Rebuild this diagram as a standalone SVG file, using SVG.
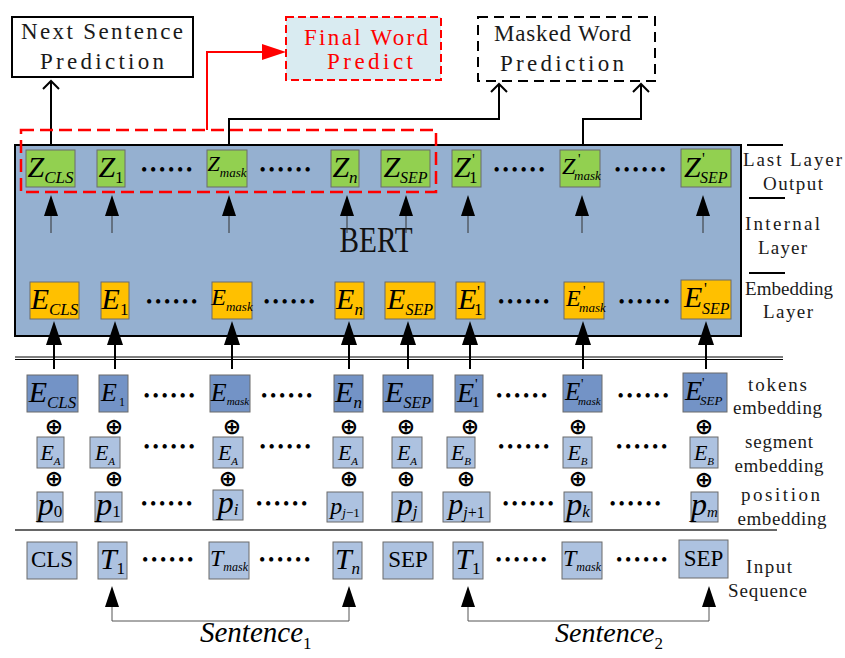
<svg xmlns="http://www.w3.org/2000/svg" width="845" height="658" viewBox="0 0 845 658">
<defs>
<style>
.lbl{font-family:"Liberation Serif","Times New Roman",serif;font-size:23px;fill:#1a1a1a;text-anchor:middle}
.rl{font-family:"Liberation Serif","Times New Roman",serif;font-size:19px;fill:#1a1a1a;text-anchor:middle}
.m{font-family:"Liberation Serif","Times New Roman",serif;font-style:italic;fill:#000}
.r{font-style:normal}
.mid{text-anchor:middle}
.dots{font-family:"Liberation Serif",serif;font-size:18px;letter-spacing:2.7px;fill:#000;text-anchor:middle}
.op{font-family:"DejaVu Sans",sans-serif;font-size:22px;font-weight:bold;fill:#000;text-anchor:middle}
.zg{fill:#92d050;stroke:#6b6b6b;stroke-width:1}
.eo{fill:#ffc000;stroke:#6b6b6b;stroke-width:1}
.td{fill:#7393c6;stroke:#6b6b6b;stroke-width:1}
.tl{fill:#adc2e0;stroke:#6b6b6b;stroke-width:1}
.ln{fill:none;stroke:#000;stroke-width:2}
.thin{fill:none;stroke:#555;stroke-width:1}
</style>
</defs>
<rect width="845" height="658" fill="#fff"/>

<!-- top boxes -->
<g id="nsp">
<rect x="12" y="17" width="181" height="60" fill="#fff" stroke="#000" stroke-width="2"/>
<text class="lbl" x="102" y="39" textLength="162" lengthAdjust="spacing">Next Sentence</text>
<text class="lbl" x="102" y="69" textLength="124" lengthAdjust="spacing">Prediction</text>
</g>
<g id="fwp">
<rect x="286" y="17" width="155" height="63" fill="#d9ebf1" stroke="#ff0000" stroke-width="2" stroke-dasharray="8 4"/>
<text class="lbl" x="366" y="45" style="fill:#ff0000" textLength="124" lengthAdjust="spacing">Final Word</text>
<text class="lbl" x="370" y="69" style="fill:#ff0000" textLength="86" lengthAdjust="spacing">Predict</text>
</g>
<g id="mwp">
<rect x="478" y="17" width="177" height="64" fill="#fff" stroke="#000" stroke-width="2" stroke-dasharray="10 6"/>
<text class="lbl" x="562.5" y="41" textLength="137" lengthAdjust="spacing">Masked Word</text>
<text class="lbl" x="562" y="71" textLength="124" lengthAdjust="spacing">Prediction</text>
</g>

<!-- BERT box -->
<g id="bert">
<rect x="15" y="145" width="726" height="191" fill="#95b0d0" stroke="#000" stroke-width="2"/>
<text x="376" y="252" font-family="Liberation Serif, serif" font-size="36" fill="#111" text-anchor="middle" textLength="73" lengthAdjust="spacingAndGlyphs">BERT</text>
</g>

<!-- right layer labels -->
<g id="layer-labels">
<line x1="747" y1="145" x2="783" y2="145" stroke="#000" stroke-width="2"/>
<text class="rl" x="792.5" y="166" textLength="99" lengthAdjust="spacing">Last Layer</text>
<text class="rl" x="793" y="190" textLength="60" lengthAdjust="spacing">Output</text>
<line x1="749" y1="198" x2="785" y2="198" stroke="#000" stroke-width="2"/>
<text class="rl" x="782.5" y="230" textLength="75" lengthAdjust="spacing">Internal</text>
<text class="rl" x="782.5" y="254" textLength="49" lengthAdjust="spacing">Layer</text>
<line x1="749" y1="273" x2="785" y2="273" stroke="#000" stroke-width="2"/>
<text class="rl" x="789" y="295" textLength="88" lengthAdjust="spacing">Embedding</text>
<text class="rl" x="788" y="318" textLength="50" lengthAdjust="spacing">Layer</text>
<text class="rl" x="777.5" y="391" textLength="59" lengthAdjust="spacing">tokens</text>
<text class="rl" x="777.5" y="414" textLength="89" lengthAdjust="spacing">embedding</text>
<text class="rl" x="779" y="448" textLength="68" lengthAdjust="spacing">segment</text>
<text class="rl" x="779" y="472" textLength="89" lengthAdjust="spacing">embedding</text>
<text class="rl" x="780.5" y="501" textLength="79" lengthAdjust="spacing">position</text>
<text class="rl" x="782" y="525" textLength="89" lengthAdjust="spacing">embedding</text>
<text class="rl" x="769" y="573" textLength="46" lengthAdjust="spacing">Input</text>
<text class="rl" x="767.5" y="597" textLength="79" lengthAdjust="spacing">Sequence</text>
</g>

<!-- Z row -->
<g id="z-cls"><rect class="zg" x="26" y="150" width="49" height="37"/><text class="m mid" x="50.5" y="177" font-size="30">Z<tspan font-size="17" dy="6">CLS</tspan></text></g>
<g id="z-1"><rect class="zg" x="97" y="150" width="28" height="37"/><text class="m mid" x="111" y="177" font-size="30">Z<tspan class="r" font-size="17" dy="6">1</tspan></text></g>
<g id="z-mask"><rect class="zg" x="207" y="150" width="40" height="37"/><text class="m mid" x="227" y="171" font-size="22">Z<tspan font-size="13" dy="6">mask</tspan></text></g>
<g id="z-n"><rect class="zg" x="331" y="150" width="28" height="37"/><text class="m mid" x="345" y="177" font-size="30">Z<tspan font-size="17" dy="6">n</tspan></text></g>
<g id="z-sep"><rect class="zg" x="381" y="150" width="49" height="37"/><text class="m mid" x="405.5" y="177" font-size="30">Z<tspan font-size="16" dy="6">SEP</tspan></text></g>
<g id="z2-1"><rect class="zg" x="452" y="150" width="29" height="37"/><text class="m" x="454" y="177" font-size="30">Z</text><text class="m r" x="472" y="165" font-size="16">'</text><text class="m r" x="469" y="183" font-size="17">1</text></g>
<g id="z2-mask"><rect class="zg" x="560" y="150" width="40" height="37"/><text class="m" x="562" y="174" font-size="24">Z</text><text class="m r" x="578" y="164" font-size="14">'</text><text class="m" x="574" y="180" font-size="13">mask</text></g>
<g id="z2-sep"><rect class="zg" x="681" y="149" width="50" height="38"/><text class="m" x="684" y="177" font-size="30">Z</text><text class="m r" x="702" y="164" font-size="16">'</text><text class="m" x="700" y="183" font-size="16">SEP</text></g>
<g id="z-dots">
<text class="dots" x="168" y="176">••••••</text><text class="dots" x="286.5" y="176">••••••</text>
<text class="dots" x="520.5" y="176">••••••</text><text class="dots" x="641.5" y="176">••••••</text>
</g>

<!-- E row (embedding layer) -->
<g id="e-cls"><rect class="eo" x="30" y="282" width="49" height="37"/><text class="m mid" x="54.5" y="309" font-size="30">E<tspan font-size="17" dy="6">CLS</tspan></text></g>
<g id="e-1"><rect class="eo" x="101" y="282" width="28" height="37"/><text class="m mid" x="115" y="309" font-size="30">E<tspan class="r" font-size="17" dy="6">1</tspan></text></g>
<g id="e-mask"><rect class="eo" x="212" y="282" width="40" height="37"/><text class="m mid" x="232" y="305" font-size="24">E<tspan font-size="13" dy="6">mask</tspan></text></g>
<g id="e-n"><rect class="eo" x="335" y="282" width="29" height="37"/><text class="m mid" x="349.5" y="309" font-size="30">E<tspan font-size="17" dy="6">n</tspan></text></g>
<g id="e-sep"><rect class="eo" x="385" y="282" width="50" height="37"/><text class="m mid" x="410" y="309" font-size="30">E<tspan font-size="16" dy="6">SEP</tspan></text></g>
<g id="e2-1"><rect class="eo" x="456" y="282" width="29" height="37"/><text class="m" x="458" y="309" font-size="30">E</text><text class="m r" x="477" y="297" font-size="16">'</text><text class="m r" x="474" y="315" font-size="17">1</text></g>
<g id="e2-mask"><rect class="eo" x="564" y="282" width="40" height="37"/><text class="m" x="566" y="306" font-size="24">E</text><text class="m r" x="583" y="296" font-size="14">'</text><text class="m" x="579" y="312" font-size="13">mask</text></g>
<g id="e2-sep"><rect class="eo" x="681" y="280" width="50" height="39"/><text class="m" x="684" y="307" font-size="30">E</text><text class="m r" x="704" y="294" font-size="16">'</text><text class="m" x="702" y="314" font-size="16">SEP</text></g>
<g id="e-dots">
<text class="dots" x="173" y="308">••••••</text><text class="dots" x="290.5" y="308">••••••</text>
<text class="dots" x="525" y="308">••••••</text><text class="dots" x="645.5" y="308">••••••</text>
</g>

<!-- token embedding row -->
<g id="t-cls"><rect class="td" x="27" y="375" width="51" height="37"/><text class="m mid" x="52.5" y="402" font-size="30">E<tspan font-size="17" dy="6">CLS</tspan></text></g>
<g id="t-1"><rect class="td" x="99" y="375" width="29" height="37"/><text class="m" x="101" y="401" font-size="26">E</text><text class="m r" x="119" y="406" font-size="12">1</text></g>
<g id="t-mask"><rect class="td" x="210" y="375" width="40" height="37"/><text class="m mid" x="230" y="401" font-size="26">E<tspan font-size="11" dy="4">mask</tspan></text></g>
<g id="t-n"><rect class="td" x="334" y="375" width="29" height="37"/><text class="m mid" x="348.5" y="402" font-size="30">E<tspan font-size="17" dy="6">n</tspan></text></g>
<g id="t-sep"><rect class="td" x="383" y="375" width="50" height="37"/><text class="m mid" x="408" y="402" font-size="30">E<tspan font-size="16" dy="6">SEP</tspan></text></g>
<g id="t2-1"><rect class="td" x="455" y="375" width="28" height="37"/><text class="m" x="457" y="402" font-size="28">E</text><text class="m r" x="475" y="389" font-size="15">'</text><text class="m r" x="472" y="407" font-size="15">1</text></g>
<g id="t2-mask"><rect class="td" x="563" y="375" width="39" height="37"/><text class="m" x="565" y="400" font-size="25">E</text><text class="m r" x="581" y="389" font-size="14">'</text><text class="m" x="578" y="405" font-size="11">mask</text></g>
<g id="t2-sep"><rect class="td" x="683" y="373" width="44" height="39"/><text class="m" x="685" y="400" font-size="28">E</text><text class="m r" x="702" y="388" font-size="14">'</text><text class="m" x="700" y="405" font-size="13">SEP</text></g>
<g id="t-dots">
<text class="dots" x="170.5" y="402">••••••</text><text class="dots" x="288" y="402">••••••</text>
<text class="dots" x="523" y="402">••••••</text><text class="dots" x="644.5" y="402">••••••</text>
</g>

<!-- plus signs -->
<g id="plus">
<text class="op" x="54" y="434">⊕</text><text class="op" x="114" y="434">⊕</text><text class="op" x="232" y="434">⊕</text><text class="op" x="349" y="434">⊕</text>
<text class="op" x="406" y="434">⊕</text><text class="op" x="470" y="434">⊕</text><text class="op" x="578" y="434">⊕</text><text class="op" x="704" y="434">⊕</text>
<text class="op" x="54" y="486">⊕</text><text class="op" x="114" y="486">⊕</text><text class="op" x="228" y="486">⊕</text><text class="op" x="349" y="486">⊕</text>
<text class="op" x="406" y="486">⊕</text><text class="op" x="466" y="486">⊕</text><text class="op" x="578" y="486">⊕</text><text class="op" x="704" y="487">⊕</text>
</g>

<!-- segment row -->
<g id="seg-1"><rect class="tl" x="37" y="437" width="27" height="31"/><text class="m mid" x="50.5" y="460" font-size="22">E<tspan font-size="11" dy="5">A</tspan></text></g>
<g id="seg-2"><rect class="tl" x="90" y="437" width="30" height="31"/><text class="m mid" x="105" y="460" font-size="22">E<tspan font-size="11" dy="5">A</tspan></text></g>
<g id="seg-3"><rect class="tl" x="213" y="437" width="30" height="31"/><text class="m mid" x="228" y="460" font-size="22">E<tspan font-size="11" dy="5">A</tspan></text></g>
<g id="seg-4"><rect class="tl" x="333" y="437" width="30" height="31"/><text class="m mid" x="348" y="460" font-size="22">E<tspan font-size="11" dy="5">A</tspan></text></g>
<g id="seg-5"><rect class="tl" x="392" y="437" width="30" height="31"/><text class="m mid" x="407" y="460" font-size="22">E<tspan font-size="11" dy="5">A</tspan></text></g>
<g id="seg-6"><rect class="tl" x="447" y="437" width="28" height="31"/><text class="m mid" x="461" y="460" font-size="22">E<tspan font-size="11" dy="5">B</tspan></text></g>
<g id="seg-7"><rect class="tl" x="563" y="437" width="29" height="31"/><text class="m mid" x="577.5" y="460" font-size="22">E<tspan font-size="11" dy="5">B</tspan></text></g>
<g id="seg-8"><rect class="tl" x="690" y="437" width="28" height="31"/><text class="m mid" x="704" y="460" font-size="22">E<tspan font-size="11" dy="5">B</tspan></text></g>
<g id="seg-dots">
<text class="dots" x="170.5" y="453">••••••</text><text class="dots" x="286.5" y="453">••••••</text>
<text class="dots" x="525" y="453">••••••</text><text class="dots" x="643" y="453">••••••</text>
</g>

<!-- position row -->
<g id="pos-0"><rect class="tl" x="37" y="492" width="26" height="30"/><text class="m mid" x="50" y="515" font-size="32">p<tspan class="r" font-size="17" dy="2">0</tspan></text></g>
<g id="pos-1"><rect class="tl" x="95" y="492" width="27" height="30"/><text class="m mid" x="108.5" y="515" font-size="32">p<tspan class="r" font-size="17" dy="2">1</tspan></text></g>
<g id="pos-i"><rect class="tl" x="213" y="490" width="30" height="30"/><text class="m mid" x="228" y="513" font-size="32">p<tspan font-size="17" dy="2">i</tspan></text></g>
<g id="pos-j1"><rect class="tl" x="327" y="492" width="36" height="30"/><text class="m mid" x="345" y="514" font-size="24">p<tspan font-size="13" dy="3">j</tspan><tspan class="r" font-size="13">−1</tspan></text></g>
<g id="pos-j"><rect class="tl" x="392" y="492" width="30" height="30"/><text class="m mid" x="407" y="515" font-size="32">p<tspan font-size="17" dy="2">j</tspan></text></g>
<g id="pos-j2"><rect class="tl" x="443" y="492" width="47" height="30"/><text class="m mid" x="466.5" y="514" font-size="30">p<tspan font-size="16" dy="4">j</tspan><tspan class="r" font-size="16">+1</tspan></text></g>
<g id="pos-k"><rect class="tl" x="564" y="492" width="28" height="30"/><text class="m mid" x="578" y="515" font-size="32">p<tspan font-size="17" dy="2">k</tspan></text></g>
<g id="pos-m"><rect class="tl" x="691" y="492" width="27" height="30"/><text class="m mid" x="704.5" y="515" font-size="32">p<tspan font-size="15" dy="2">m</tspan></text></g>
<g id="pos-dots">
<text class="dots" x="168" y="510">••••••</text><text class="dots" x="283" y="510">••••••</text>
<text class="dots" x="529.5" y="510">••••••</text><text class="dots" x="636.5" y="510">••••••</text>
</g>

<!-- input row -->
<g id="in-cls"><rect class="tl" x="27" y="542" width="50" height="37"/><text class="m r mid" x="52" y="567" font-size="23">CLS</text></g>
<g id="in-t1"><rect class="tl" x="98" y="542" width="29" height="37"/><text class="m mid" x="112.5" y="569" font-size="30">T<tspan class="r" font-size="17" dy="5">1</tspan></text></g>
<g id="in-tmask"><rect class="tl" x="209" y="542" width="40" height="37"/><text class="m mid" x="229" y="566" font-size="24">T<tspan font-size="12" dy="5">mask</tspan></text></g>
<g id="in-tn"><rect class="tl" x="333" y="542" width="29" height="37"/><text class="m mid" x="347.5" y="569" font-size="30">T<tspan font-size="17" dy="5">n</tspan></text></g>
<g id="in-sep"><rect class="tl" x="383" y="542" width="50" height="37"/><text class="m r mid" x="408" y="567" font-size="23">SEP</text></g>
<g id="in-t1b"><rect class="tl" x="453" y="542" width="30" height="37"/><text class="m mid" x="468" y="569" font-size="30">T<tspan class="r" font-size="17" dy="5">1</tspan></text></g>
<g id="in-tmaskb"><rect class="tl" x="562" y="542" width="40" height="37"/><text class="m mid" x="582" y="566" font-size="24">T<tspan font-size="12" dy="5">mask</tspan></text></g>
<g id="in-sepb"><rect class="tl" x="679" y="540" width="49" height="38"/><text class="m r mid" x="703.5" y="566" font-size="23">SEP</text></g>
<g id="in-dots">
<text class="dots" x="169" y="566">••••••</text><text class="dots" x="286" y="566">••••••</text>
<text class="dots" x="522.5" y="566">••••••</text><text class="dots" x="643" y="566">••••••</text>
</g>

<!-- sentence labels -->
<g id="sent1"><text class="m" x="200" y="642" font-size="29">Sentence<tspan class="r" font-size="17" dy="7">1</tspan></text></g>
<g id="sent2"><text class="m" x="555" y="642" font-size="28">Sentence<tspan class="r" font-size="17" dy="7">2</tspan></text></g>

<!-- connectors -->
<g id="connectors">
<line class="ln" x1="51" y1="145" x2="51" y2="81"/>
<polyline class="ln" points="43,89 51,81 59,89"/>
<polyline fill="none" stroke="#ff0000" stroke-width="2" points="207,130 207,52 264,52"/>
<polygon fill="#ff0000" points="286,52 262,44 262,60"/>
<polyline class="ln" points="229,145 229,119 499,119 499,84"/>
<polyline class="ln" points="491,92 499,84 507,92"/>
<polyline class="ln" points="583,145 583,119 641,119 641,84"/>
<polyline class="ln" points="633,92 641,84 649,92"/>
<rect x="21" y="130" width="415" height="62" fill="none" stroke="#ff0000" stroke-width="2.5" stroke-dasharray="13 6"/>
<g stroke="#333" stroke-width="1" fill="#000">
<line x1="51" y1="214" x2="51" y2="233"/><polygon points="51,195 44,216 58,216" stroke="none"/>
<line x1="112" y1="214" x2="112" y2="233"/><polygon points="112,195 105,216 119,216" stroke="none"/>
<line x1="229" y1="214" x2="229" y2="233"/><polygon points="229,195 222,216 236,216" stroke="none"/>
<line x1="347" y1="214" x2="347" y2="233"/><polygon points="347,195 340,216 354,216" stroke="none"/>
<line x1="406" y1="214" x2="406" y2="233"/><polygon points="406,195 399,216 413,216" stroke="none"/>
<line x1="468" y1="214" x2="468" y2="233"/><polygon points="468,195 461,216 475,216" stroke="none"/>
<line x1="582" y1="214" x2="582" y2="233"/><polygon points="582,195 575,216 589,216" stroke="none"/>
<line x1="703" y1="214" x2="703" y2="233"/><polygon points="703,195 696,216 710,216" stroke="none"/>
</g>
<line x1="15" y1="357" x2="783" y2="357" stroke="#000" stroke-width="1"/>
<line x1="15" y1="359.5" x2="783" y2="359.5" stroke="#000" stroke-width="1"/>
<line x1="15" y1="530" x2="777" y2="530" stroke="#333" stroke-width="1.5"/>
<g stroke="#000" stroke-width="2" fill="#000">
<line x1="54" y1="343" x2="54" y2="369"/><polygon points="54,321 46,345 62,345" stroke="none"/>
<line x1="115" y1="343" x2="115" y2="369"/><polygon points="115,321 107,345 123,345" stroke="none"/>
<line x1="232" y1="343" x2="232" y2="369"/><polygon points="232,321 224,345 240,345" stroke="none"/>
<line x1="349" y1="343" x2="349" y2="369"/><polygon points="349,321 341,345 357,345" stroke="none"/>
<line x1="408" y1="343" x2="408" y2="369"/><polygon points="408,321 400,345 416,345" stroke="none"/>
<line x1="470" y1="343" x2="470" y2="369"/><polygon points="470,321 462,345 478,345" stroke="none"/>
<line x1="583" y1="343" x2="583" y2="369"/><polygon points="583,321 575,345 591,345" stroke="none"/>
<line x1="706" y1="343" x2="706" y2="369"/><polygon points="706,321 698,345 714,345" stroke="none"/>
</g>
<polyline class="thin" points="112,605 112,621 349,621 349,605"/>
<polygon points="112,586 105,607 119,607" fill="#000"/>
<polygon points="349,586 342,607 356,607" fill="#000"/>
<polyline class="thin" points="468,605 468,621 709,621 709,605"/>
<polygon points="468,586 461,607 475,607" fill="#000"/>
<polygon points="709,586 702,607 716,607" fill="#000"/>
</g>
</svg>
